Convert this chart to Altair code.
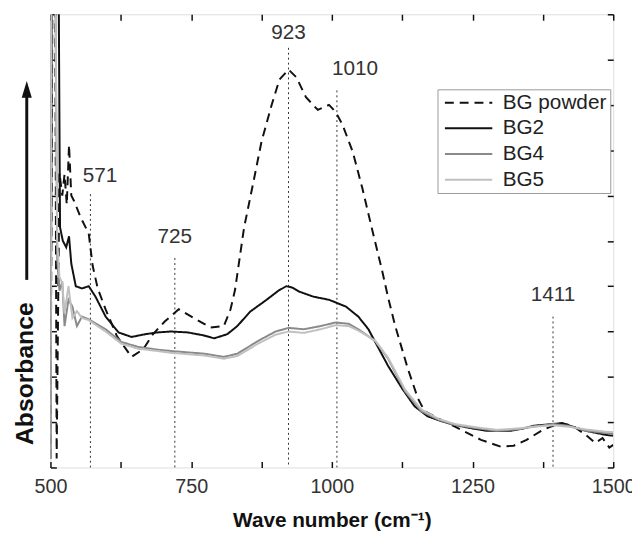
import altair as alt
import pandas as pd

# ---- data ----
series_names = ["BG powder", "BG2", "BG4", "BG5"]

bgp_x = [500, 504, 508, 511, 516, 521, 525, 529, 533, 537, 542, 554, 568, 575, 584, 598, 618, 644, 665, 682,
         703, 728, 753, 784, 808, 820, 828, 844, 861, 875, 893, 907, 923, 937, 954, 975, 995, 1007, 1019, 1037,
         1054, 1072, 1089, 1100, 1112, 1125, 1135, 1153, 1165, 1188, 1230, 1265, 1300, 1323, 1346, 1375, 1405,
         1428, 1451, 1468, 1481, 1493, 1500]
bgp_y = [0.2, 12, 12, 0.2, 6.5, 6.0, 6.47, 5.8, 7.12, 6.0, 5.88, 5.51, 5.16, 4.45, 3.95, 3.49, 2.9, 2.44, 2.61, 2.94,
         3.22, 3.49, 3.31, 3.09, 3.12, 3.49, 3.92, 5.29, 6.32, 7.19, 8.0, 8.56, 8.78, 8.61, 8.17, 7.89, 8.0, 7.84, 7.56, 6.97,
         6.17, 5.23, 4.36, 3.75, 3.15, 2.6, 2.18, 1.52, 1.24, 1.09, 0.83, 0.61, 0.46, 0.48, 0.61, 0.83, 0.98,
         0.92, 0.72, 0.54, 0.65, 0.44, 0.5]

bg2_x = [500, 503, 514, 517, 522, 528, 533, 537, 545, 556, 568, 580, 598, 621, 644, 668, 690, 714, 744, 770,
         791, 814, 832, 855, 884, 905, 919, 930, 942, 967, 995, 1025, 1047, 1065, 1077, 1100, 1125, 1147, 1170, 1195,
         1218, 1250, 1275, 1318, 1340, 1358, 1393, 1410, 1423, 1451, 1486, 1500]
bg2_y = [0.2, 12, 12, 5.3, 5.0, 4.86, 5.1, 4.5, 4.0, 3.95, 4.0, 3.77, 3.33, 2.98, 2.88, 2.94, 2.98, 3.0, 2.98, 2.92,
         2.85, 2.94, 3.12, 3.44, 3.70, 3.9, 4.0, 3.97, 3.88, 3.77, 3.70, 3.55, 3.33, 3.05, 2.77, 2.24, 1.74, 1.35, 1.13, 1.02,
         0.94, 0.86, 0.81, 0.81, 0.86, 0.92, 0.96, 0.98, 0.92, 0.81, 0.72, 0.70]

bg4_x = [500, 502, 508, 512, 516, 521, 525, 532, 539, 547, 556, 568, 598, 626, 656, 690, 714, 774, 808, 832,
         870, 900, 923, 950, 980, 1007, 1030, 1047, 1077, 1100, 1130, 1159, 1190, 1218, 1260, 1293, 1330, 1358, 1393, 1420,
         1451, 1486, 1500]
bg4_y = [0.2, 12, 12, 4.6, 3.9, 4.1, 3.12, 3.7, 3.55, 3.12, 3.33, 3.27, 3.05, 2.77, 2.66, 2.6, 2.57, 2.51, 2.44, 2.51,
         2.8, 3.0, 3.08, 3.05, 3.12, 3.2, 3.17, 3.05, 2.79, 2.4, 1.68, 1.24, 1.05, 0.94, 0.86, 0.81, 0.84, 0.9, 0.96, 0.92,
         0.81, 0.76, 0.74]

bg5_x = [500, 502, 508, 512, 516, 521, 525, 532, 539, 547, 556, 568, 598, 626, 656, 690, 714, 774, 808, 832,
         870, 900, 923, 950, 980, 1007, 1030, 1047, 1077, 1100, 1130, 1159, 1190, 1218, 1260, 1293, 1330, 1358, 1393, 1420,
         1451, 1486, 1500]
bg5_y = [0.2, 12, 12, 5.0, 4.2, 4.07, 3.4, 4.0, 3.3, 3.45, 3.3, 3.25, 3.0, 2.73, 2.62, 2.57, 2.53, 2.47, 2.40, 2.46,
         2.74, 2.93, 3.0, 2.97, 3.05, 3.14, 3.12, 3.02, 2.8, 2.42, 1.72, 1.28, 1.07, 0.96, 0.88, 0.83, 0.86, 0.9, 0.93, 0.9,
         0.84, 0.79, 0.78]

peak_pos = [571, 721, 923, 1009, 1393]
peak_label = ["571", "725", "923", "1010", "1411"]
peak_top = [6.03, 4.62, 9.26, 8.32, 3.33]
label_y = [6.43, 5.08, 9.59, 8.78, 3.81]
label_shift = [17, 0, 0, 32, 0]   # x-units offset of label from its line

x_ticks = [500, 625, 750, 875, 1000, 1125, 1250, 1375, 1500]
y_ticks = [0, 1, 2, 3, 4, 5, 6, 7, 8, 9, 10]

# ---- tables ----
rows = []
for name, xs, ys in zip(series_names, [bgp_x, bg2_x, bg4_x, bg5_x], [bgp_y, bg2_y, bg4_y, bg5_y]):
    for i, (a, b) in enumerate(zip(xs, ys)):
        rows.append({"series": name, "wn": a, "absb": b, "i": i})
df = pd.DataFrame(rows)

peaks = pd.DataFrame({"pos": peak_pos, "label": peak_label, "top": peak_top,
                      "ly": label_y, "lx": [p + s for p, s in zip(peak_pos, label_shift)], "zero": 0})

W, H = 570, 459
FONT = "Liberation Sans"
xscale = alt.Scale(domain=[500, 1500], nice=False, zero=False)
yscale = alt.Scale(domain=[0, 10], nice=False, zero=False)

leg = alt.Legend(title=None, orient="none", legendX=392, legendY=76,
                 symbolType="M-4,0H4", symbolSize=144, symbolOffset=18, symbolStrokeWidth=2,
                 labelFontSize=21, labelFont=FONT, labelColor="#222", labelOffset=24,
                 strokeColor="#999", fillColor="white", padding=3, rowPadding=4, symbolLimit=10)

lines = alt.Chart(df).mark_line(clip=True, strokeWidth=2).encode(
    x=alt.X("wn:Q", scale=xscale,
            axis=alt.Axis(orient="bottom", values=x_ticks, offset=-6, tickSize=6, tickColor="#111",
                          tickWidth=1.5, domain=False, grid=False, format="d",
                          labelExpr="datum.value % 250 == 0 ? datum.label : ''",
                          labelFontSize=20, labelFont=FONT, labelColor="#333", labelPadding=9,
                          labelFlush=False, labelOverlap=False,
                          title="Wave number (cm⁻¹)", titleFont=FONT, titleFontSize=21,
                          titleFontWeight="bold", titleColor="#111", titlePadding=14)),
    y=alt.Y("absb:Q", scale=yscale,
            axis=alt.Axis(orient="left", values=y_ticks, offset=-6, tickSize=6, tickColor="#111",
                          tickWidth=1.5, domain=False, grid=False, labels=False, title=None)),
    color=alt.Color("series:N", sort=series_names,
                    scale=alt.Scale(domain=series_names, range=["#111111", "#111111", "#8a8a8a", "#c0c0c0"]),
                    legend=leg),
    strokeDash=alt.StrokeDash("series:N", sort=series_names,
                              scale=alt.Scale(domain=series_names, range=[[9, 6], [1, 0], [1, 0], [1, 0]]),
                              legend=leg),
    order="i:Q",
)

rules = alt.Chart(peaks).mark_rule(color="#333", strokeWidth=1, strokeDash=[2, 3]).encode(
    x=alt.X("pos:Q", scale=xscale,
            axis=alt.Axis(orient="top", values=x_ticks, offset=-6, tickSize=6, tickColor="#111",
                          tickWidth=1.5, domain=False, grid=False, labels=False, title=None)),
    y=alt.Y("top:Q", scale=yscale,
            axis=alt.Axis(orient="right", values=y_ticks, offset=-6, tickSize=6, tickColor="#111",
                          tickWidth=1.5, domain=False, grid=False, labels=False, title=None)),
    y2="zero:Q",
)

labels = alt.Chart(peaks).mark_text(font=FONT, fontSize=21, color="#333", align="center",
                                    baseline="middle").encode(
    x=alt.X("lx:Q", scale=xscale, axis=None), y=alt.Y("ly:Q", scale=yscale, axis=None), text="label:N")

ytitle = alt.Chart(pd.DataFrame({"t": ["Absorbance"]})).mark_text(
    font=FONT, fontSize=25, fontWeight="bold", color="#111", angle=270,
    align="center", baseline="middle").encode(x=alt.value(-26), y=alt.value(364), text="t:N")

arrow_line = alt.Chart(pd.DataFrame({"t": [0]})).mark_rule(color="#111", strokeWidth=3).encode(
    x=alt.value(-24), y=alt.value(269), y2=alt.value(80))
arrow_head = alt.Chart(pd.DataFrame({"t": [0]})).mark_point(
    shape="M0,-1L0.6,1L-0.6,1Z", filled=True, color="#111", opacity=1, size=289).encode(
    x=alt.value(-24), y=alt.value(76))

chart = alt.layer(rules, lines, labels, ytitle, arrow_line, arrow_head).resolve_axis(
    x="independent", y="independent"
).properties(
    width=W, height=H, autosize="none",
    padding={"left": 43, "top": 3, "right": 19, "bottom": 63},
).configure_view(stroke="#111", strokeWidth=2).configure(background="white")

chart.save("out.html", embed_options={"renderer": "svg", "actions": False})
